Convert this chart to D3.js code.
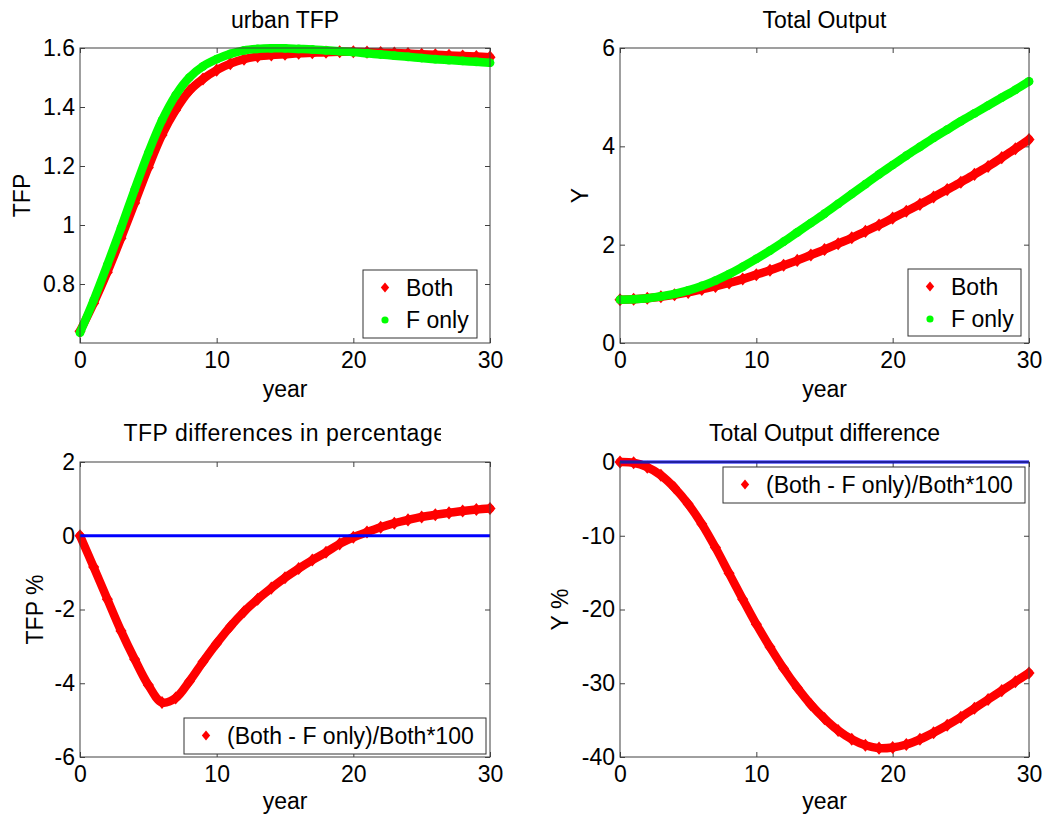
<!DOCTYPE html>
<html>
<head>
<meta charset="utf-8">
<script src="https://cdn.jsdelivr.net/npm/d3@7"></script>
<style>
body { margin: 0; background: #fff; }
text { font-family: "Liberation Sans", Arial, Helvetica, sans-serif; }
</style>
</head>
<body>
<svg id="fig" width="1048" height="820"></svg>
<script>

// years on the x axis
var years = [0,1,2,3,4,5,6,7,8,9,10,11,12,13,14,15,16,17,18,19,20,21,22,23,24,25,26,27,28,29,30];

// urban TFP
var tfpBoth = [0.640,0.735,0.840,0.955,1.075,1.195,1.305,1.390,1.455,1.495,1.525,1.547,1.562,1.571,1.576,1.579,1.582,1.584,1.586,1.587,1.587,1.586,1.585,1.583,1.581,1.579,1.577,1.575,1.573,1.571,1.569];
var tfpF    = [0.635,0.745,0.865,0.990,1.120,1.245,1.355,1.440,1.500,1.538,1.562,1.580,1.592,1.597,1.599,1.599,1.597,1.595,1.592,1.589,1.586,1.582,1.578,1.574,1.570,1.566,1.562,1.559,1.556,1.553,1.550];

// total output
var outBoth = [0.88,0.89,0.91,0.94,0.98,1.03,1.09,1.15,1.22,1.30,1.39,1.48,1.58,1.68,1.79,1.90,2.02,2.14,2.27,2.40,2.54,2.68,2.82,2.97,3.12,3.27,3.43,3.59,3.77,3.95,4.14];
var outF    = [0.88,0.89,0.91,0.95,1.00,1.07,1.16,1.27,1.40,1.55,1.71,1.88,2.06,2.25,2.44,2.63,2.83,3.03,3.23,3.43,3.62,3.81,3.99,4.17,4.34,4.51,4.67,4.83,4.99,5.15,5.32];

// differences in percent
var tfpDiff = [0,-0.85,-1.72,-2.58,-3.35,-4.05,-4.52,-4.40,-3.95,-3.42,-2.92,-2.46,-2.06,-1.72,-1.42,-1.14,-0.89,-0.66,-0.45,-0.22,-0.04,0.10,0.23,0.34,0.43,0.51,0.57,0.62,0.67,0.71,0.74];
var outDiff = [0,-0.1,-0.7,-1.8,-3.5,-5.7,-8.4,-11.6,-15.1,-18.6,-22.0,-25.1,-28.0,-30.6,-32.9,-34.8,-36.4,-37.6,-38.4,-38.8,-38.7,-38.3,-37.6,-36.7,-35.7,-34.6,-33.4,-32.2,-31.0,-29.8,-28.6];

// ticks
var xTicks = [0,10,20,30];
var tfpTicks = [0.8,1,1.2,1.4,1.6];
var outTicks = [0,2,4,6];
var tfpDiffTicks = [-6,-4,-2,0,2];
var outDiffTicks = [-40,-30,-20,-10,0];

var legendTop = ["Both","F only"];
var legendDiff = ["(Both - F only)/Both*100"];

var RED = "#ff0000", GREEN = "#00ff00", BLUE = "#0000ff";
var FONT = 23;

var svg = d3.select("#fig");

// matlab style diamond, a bit taller than wide
var diamond = {
  draw: function(ctx, size) {
    var h = Math.sqrt(size) * 0.78, w = h * 0.85;
    ctx.moveTo(0, -h); ctx.lineTo(w, 0); ctx.lineTo(0, h); ctx.lineTo(-w, 0); ctx.closePath();
  }
};

function marker(shape, size) {
  return d3.symbol().type(shape === "circle" ? d3.symbolCircle : diamond).size(size);
}

function panel(cfg) {
  var g = svg.append("g");
  var x = d3.scaleLinear().domain([0,30]).range([cfg.left, cfg.right]);
  var y = d3.scaleLinear().domain(cfg.yDomain).range([cfg.bottom, cfg.top]);
  var fmt = function(d) { return String(d); };

  var axes = [
    g.append("g").attr("transform","translate(0,"+cfg.bottom+")")
      .call(d3.axisBottom(x).tickValues(xTicks).tickSize(-5).tickPadding(9).tickFormat(fmt)),
    g.append("g").attr("transform","translate(0,"+cfg.top+")")
      .call(d3.axisTop(x).tickValues(xTicks).tickSize(-5).tickFormat("")),
    g.append("g").attr("transform","translate("+cfg.left+",0)")
      .call(d3.axisLeft(y).tickValues(cfg.yTicks).tickSize(-5).tickPadding(5).tickFormat(fmt)),
    g.append("g").attr("transform","translate("+cfg.right+",0)")
      .call(d3.axisRight(y).tickValues(cfg.yTicks).tickSize(-5).tickFormat(""))
  ];
  axes.forEach(function(a) {
    a.select(".domain").remove();
    a.attr("font-size", FONT).attr("font-family", null).style("color", "#000");
    a.selectAll(".tick line").attr("stroke", "#404040");
  });

  // series
  cfg.series.forEach(function(s) {
    var pts = years.map(function(yr, i) { return [yr, s.values[i]]; });
    g.append("path")
      .datum(pts)
      .attr("fill", "none")
      .attr("stroke", s.color)
      .attr("stroke-width", 8.5)
      .attr("stroke-linecap", "round")
      .attr("stroke-linejoin", "round")
      .attr("d", d3.line().x(function(d){ return x(d[0]); }).y(function(d){ return y(d[1]); }).curve(d3.curveCatmullRom.alpha(0.5)));
    g.selectAll(null)
      .data(pts)
      .enter().append("path")
      .attr("transform", function(d){ return "translate("+x(d[0])+","+y(d[1])+")"; })
      .attr("d", marker(s.shape, s.shape === "circle" ? 60 : 70))
      .attr("fill", s.color);
  });

  if (cfg.zero) {
    g.append("line")
      .attr("x1", x(0)).attr("x2", x(30))
      .attr("y1", y(0)).attr("y2", y(0))
      .attr("stroke", BLUE).attr("stroke-width", 3);
  }

  // box
  g.append("rect")
    .attr("x", cfg.left).attr("y", cfg.top)
    .attr("width", cfg.right - cfg.left).attr("height", cfg.bottom - cfg.top)
    .attr("fill", "none").attr("stroke", "#404040").attr("stroke-width", 1);

  // title
  var title = g.append("text")
    .attr("x", (cfg.left + cfg.right) / 2).attr("y", cfg.titleY)
    .attr("text-anchor", "middle").attr("font-size", FONT)
    .text(cfg.title);
  if (cfg.titleClip) {
    var id = "clip" + cfg.id;
    svg.append("clipPath").attr("id", id).append("rect")
      .attr("x", 0).attr("y", cfg.titleY - 40).attr("width", cfg.titleClip).attr("height", 60);
    title.attr("clip-path", "url(#" + id + ")").attr("letter-spacing", "0.55px");
  }

  // axis labels
  g.append("text")
    .attr("x", (cfg.left + cfg.right) / 2).attr("y", cfg.xlabY)
    .attr("text-anchor", "middle").attr("font-size", FONT)
    .text("year");
  var cy = (cfg.top + cfg.bottom) / 2;
  g.append("text")
    .attr("transform", "translate(" + cfg.ylabX + "," + cy + ") rotate(-90)")
    .attr("text-anchor", "middle").attr("font-size", FONT)
    .text(cfg.ylab);

  // legend
  var L = cfg.legend;
  var lg = g.append("g").attr("transform", "translate(" + L.x + "," + L.y + ")");
  lg.append("rect").attr("width", L.w).attr("height", L.h)
    .attr("fill", "#fff").attr("stroke", "#333").attr("stroke-width", 1);
  L.labels.forEach(function(lab, i) {
    var s = cfg.series[i];
    var ry = 17.5 + i * 32.5;
    lg.append("path").attr("transform", "translate(22," + ry + ")")
      .attr("d", marker(s.shape, 40)).attr("fill", s.color);
    lg.append("text").attr("x", 43).attr("y", ry).attr("dy", "0.35em")
      .attr("font-size", FONT).text(lab);
  });
}

panel({
  id: 1, left: 80, right: 490, top: 48, bottom: 343,
  yDomain: [0.6, 1.6], yTicks: tfpTicks,
  title: "urban TFP", titleY: 28, xlabY: 397, ylab: "TFP", ylabX: 30,
  series: [{values: tfpBoth, color: RED, shape: "diamond"}, {values: tfpF, color: GREEN, shape: "circle"}],
  legend: {x: 363, y: 270, w: 114, h: 68, labels: legendTop}
});

panel({
  id: 2, left: 620, right: 1029, top: 48, bottom: 343,
  yDomain: [0, 6], yTicks: outTicks,
  title: "Total Output", titleY: 28, xlabY: 397, ylab: "Y", ylabX: 588,
  series: [{values: outBoth, color: RED, shape: "diamond"}, {values: outF, color: GREEN, shape: "circle"}],
  legend: {x: 908, y: 269, w: 113, h: 67, labels: legendTop}
});

panel({
  id: 3, left: 80, right: 490, top: 462, bottom: 757,
  yDomain: [-6, 2], yTicks: tfpDiffTicks, zero: true,
  title: "TFP differences in percentage", titleY: 441, titleClip: 441, xlabY: 809, ylab: "TFP %", ylabX: 43,
  series: [{values: tfpDiff, color: RED, shape: "diamond"}],
  legend: {x: 184, y: 718, w: 302, h: 36, labels: legendDiff}
});

panel({
  id: 4, left: 620, right: 1029, top: 462, bottom: 757,
  yDomain: [-40, 0], yTicks: outDiffTicks, zero: true,
  title: "Total Output difference", titleY: 441, xlabY: 809, ylab: "Y %", ylabX: 568,
  series: [{values: outDiff, color: RED, shape: "diamond"}],
  legend: {x: 723, y: 467, w: 302, h: 36, labels: legendDiff}
});

</script>
</body>
</html>
